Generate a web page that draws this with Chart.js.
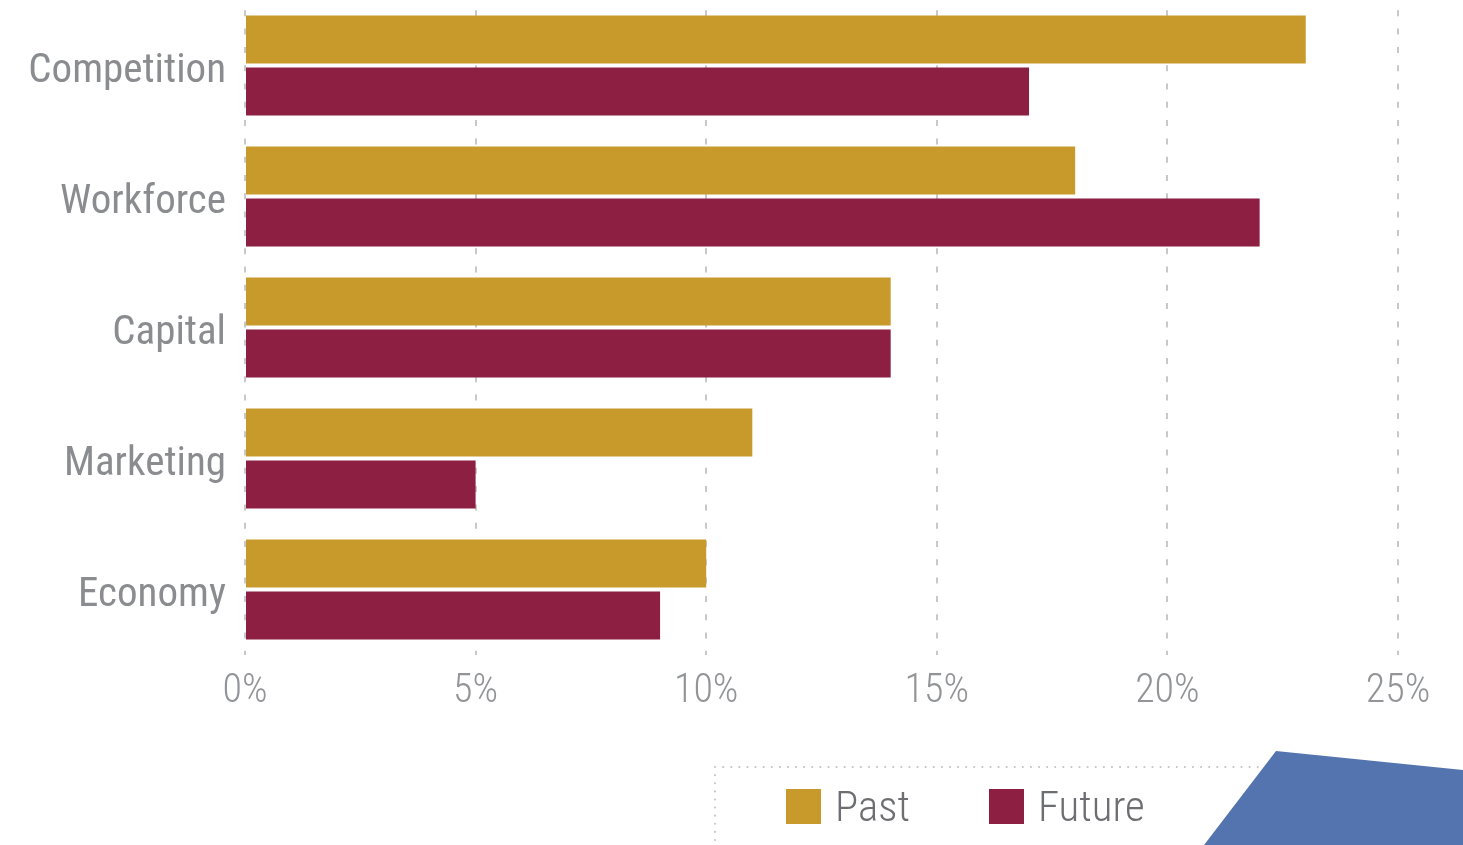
<!DOCTYPE html>
<html>
<head>
<meta charset="utf-8">
<script src="https://cdn.jsdelivr.net/npm/chart.js@4/dist/chart.umd.min.js"></script>
<style>
  html, body { margin: 0; padding: 0; background: #fff; }
  #wrap { position: relative; width: 1463px; height: 845px; overflow: hidden; }
  #legend {
    position: absolute; left: 786px; top: 784px;
    display: flex; align-items: center; gap: 79px;
    font-family: "Roboto Condensed", Roboto, sans-serif; font-stretch: condensed;
    font-weight: 300; font-size: 43px; line-height: 44px; color: #6d6e71;
  }
  #legend .item { display: flex; align-items: center; }
  #legend .box { width: 35px; height: 35px; margin-right: 14px; }
</style>
</head>
<body>
<div id="wrap">
  <canvas id="chart" width="1463" height="845"></canvas>
  <div id="legend"></div>
</div>
<script>
const categories = ["Competition", "Workforce", "Capital", "Marketing", "Economy"];
const pastValues = [23, 18, 14, 11, 10];
const futureValues = [17, 22, 14, 5, 9];
const xTicks = [0, 5, 10, 15, 20, 25];

const seriesNames = ["Past", "Future"];
const seriesColors = ["#c89a2c", "#8c1f42"];

// dotted legend frame + blue corner shape
const decoration = {
    id: "decoration",
    afterDraw(chart) {
        const ctx = chart.ctx;
        ctx.save();
        ctx.strokeStyle = "#c4c4c4";
        ctx.lineWidth = 2;
        ctx.lineCap = "round";
        ctx.setLineDash([0.1, 8]);
        ctx.beginPath();
        ctx.moveTo(715, 767);
        ctx.lineTo(1270, 767);
        ctx.moveTo(715, 767);
        ctx.lineTo(715, 850);
        ctx.stroke();
        ctx.setLineDash([]);
        ctx.fillStyle = "#5474af";
        ctx.beginPath();
        ctx.moveTo(1276, 751);
        ctx.lineTo(1463, 770);
        ctx.lineTo(1463, 845);
        ctx.lineTo(1204, 845);
        ctx.closePath();
        ctx.fill();
        ctx.restore();
    }
};

const fontFamily = "'Roboto Condensed', Roboto, sans-serif";

new Chart(document.getElementById("chart"), {
    type: "bar",
    data: {
        labels: categories,
        datasets: [
            { label: seriesNames[0], data: pastValues, backgroundColor: seriesColors[0] },
            { label: seriesNames[1], data: futureValues, backgroundColor: seriesColors[1] }
        ]
    },
    options: {
        indexAxis: "y",
        responsive: false,
        animation: false,
        events: [],
        categoryPercentage: 0.795,
        barPercentage: 0.923,
        layout: { padding: { top: 0, right: 65, bottom: 116, left: 0 } },
        plugins: {
            legend: { display: false },
            tooltip: { enabled: false }
        },
        scales: {
            x: {
                min: 0,
                max: 25,
                afterBuildTicks: s => { s.ticks = xTicks.map(v => ({ value: v })); },
                border: { display: false, dash: [6, 12.3], dashOffset: 8 },
                grid: {
                    color: "#c8c8c8",
                    lineWidth: 2,
                    drawTicks: false
                },
                ticks: {
                    padding: 13,
                    color: "#929497",
                    font: { family: fontFamily, size: 40, weight: "300 condensed", lineHeight: 1.2 },
                    callback: v => v + "%"
                }
            },
            y: {
                afterFit: s => { s.width = 245; s.paddingTop = 0; s.paddingBottom = 0; },
                border: { display: false },
                grid: { display: false, drawTicks: false },
                ticks: {
                    padding: 19,
                    labelOffset: 6,
                    color: "#8a8c8f",
                    font: { family: fontFamily, size: 41, weight: "400 condensed" }
                }
            }
        }
    },
    plugins: [decoration]
});

const legend = document.getElementById("legend");
seriesNames.forEach((name, i) => {
    const item = document.createElement("div");
    item.className = "item";
    const box = document.createElement("span");
    box.className = "box";
    box.style.background = seriesColors[i];
    const txt = document.createElement("span");
    txt.textContent = name;
    item.appendChild(box);
    item.appendChild(txt);
    legend.appendChild(item);
});
</script>
</body>
</html>
